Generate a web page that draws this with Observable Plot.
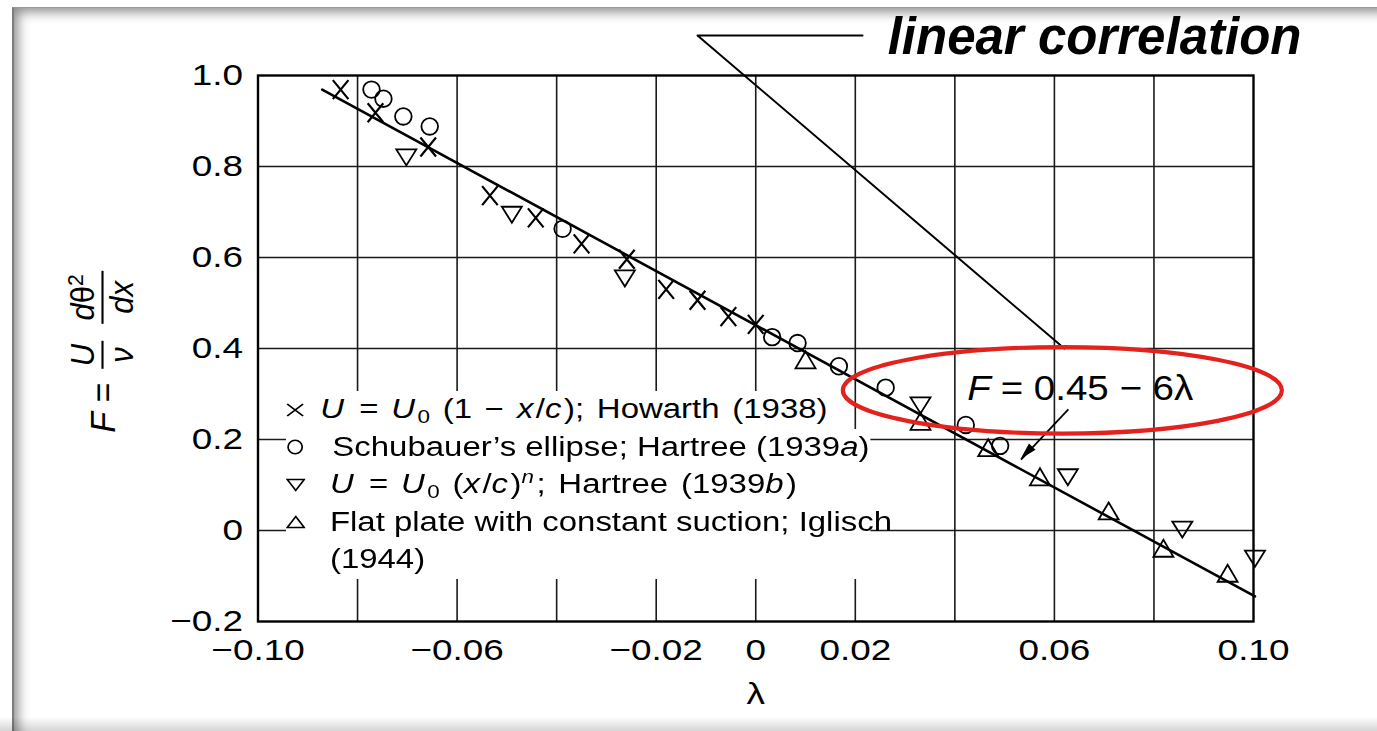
<!DOCTYPE html>
<html>
<head>
<meta charset="utf-8">
<script src="https://cdn.jsdelivr.net/npm/d3@7"></script>
<script src="https://cdn.jsdelivr.net/npm/@observablehq/plot@0.6"></script>
<style>
  html, body { margin: 0; padding: 0; background: #fff; width: 1377px; height: 731px; overflow: hidden;
    font-family: "Liberation Sans", Arial, Helvetica, sans-serif; color: #000; }
  #chart { position: absolute; left: 0; top: 0; }
  #legend { position: absolute; left: 286px; top: 391px; transform: scaleX(1.22); transform-origin: 0 0;
    font-size: 27px; white-space: nowrap; }
  #legend .row { display: flex; align-items: center; height: 37.5px; line-height: 37.5px; }
  #legend .r1 { background: #fff; width: 450px; }
  #legend .block { background: #fff; width: 479px; }
  #legend .sym { flex: none; height: 37.5px; display: flex; align-items: center; }
  #legend .wide { word-spacing: 3px; }
  #legend .wide i { padding-right: 2px; }
  #legend sub { font-size: 0.68em; vertical-align: -0.28em; line-height: 0; }
  #legend sup { font-size: 0.68em; vertical-align: 0.55em; line-height: 0; }
  #ylabel { position: absolute; left: 103px; top: 350px; transform: translate(-50%, -50%) rotate(-90deg) scaleY(1.05);
    display: flex; align-items: center; white-space: nowrap; font-size: 34px; }
  #ylabel .frac { display: inline-flex; flex-direction: column; align-items: center; font-size: 31px; line-height: 1.08; margin: 0 4px; }
  #ylabel .frac .num { border-bottom: 2px solid #000; padding: 0 3px 1px 3px; }
  #ylabel .frac .den { padding: 1px 3px 0 3px; }
  #ylabel sup { font-size: 0.68em; vertical-align: 0.5em; line-height: 0; }
  #slide { position: absolute; left: 12px; top: 7px; width: 1400px; height: 740px;
    border-left: 2px solid #7d7d7d; border-top: 1px solid #9a9a9a;
    box-shadow: inset 10px 10px 12px -6px rgba(0,0,0,0.45); pointer-events: none; }
  #slideBottom { position: absolute; left: 0; top: 717px; width: 1377px; height: 14px;
    background: linear-gradient(to bottom, rgba(0,0,0,0), rgba(0,0,0,0.17)); pointer-events: none; }
</style>
</head>
<body>
<div id="chart"></div>

<div id="legend">
  <div class="row r1">
    <span class="sym" style="width:28px"><svg width="15" height="14" viewBox="0 0 15 14"><path d="M1,1 L14,13 M14,1 L1,13" stroke="#000" stroke-width="1.7" fill="none"/></svg></span>
    <span class="txt wide"><i>U</i> = <i>U</i><sub>0</sub> (1 − <i>x</i>/<i>c</i>); Howarth (1938)</span>
  </div>
  <div class="block">
    <div class="row">
      <span class="sym" style="width:38px"><svg width="15" height="16" viewBox="0 0 15 16"><ellipse cx="7.5" cy="8" rx="5.8" ry="6.8" fill="none" stroke="#000" stroke-width="1.4"/></svg></span>
      <span class="txt">Schubauer’s ellipse; Hartree (1939<i>a</i>)</span>
    </div>
    <div class="row">
      <span class="sym" style="width:36px"><svg width="16" height="14" viewBox="0 0 16 14"><path d="M1,1.5 H15 L8,12.5 Z" fill="none" stroke="#000" stroke-width="1.4"/></svg></span>
      <span class="txt wide"><i>U</i> = <i>U</i><sub>0</sub> (<i>x</i>/<i>c</i>)<sup><i>n</i></sup>; Hartree (1939<i>b</i>)</span>
    </div>
    <div class="row">
      <span class="sym" style="width:36px"><svg width="16" height="14" viewBox="0 0 16 14"><path d="M8,1.5 L15,12.5 H1 Z" fill="none" stroke="#000" stroke-width="1.4"/></svg></span>
      <span class="txt">Flat plate with constant suction; Iglisch</span>
    </div>
    <div class="row">
      <span class="sym" style="width:36px"></span>
      <span class="txt">(1944)</span>
    </div>
  </div>
</div>

<div id="ylabel"><i>F</i>&nbsp;=&nbsp;<span class="frac"><span class="num"><i>U</i></span><span class="den"><i>ν</i></span></span>&nbsp;<span class="frac"><span class="num"><i>d</i>θ<sup>2</sup></span><span class="den"><i>dx</i></span></span></div>

<div id="slide"></div>
<div id="slideBottom"></div>

<script>
// ---------- data ----------
const xDomain = [-0.10, 0.10];
const yDomain = [-0.2, 1.0];
const xTickValues = [-0.10, -0.06, -0.02, 0, 0.02, 0.06, 0.10];
const xGridValues = [-0.08, -0.06, -0.04, -0.02, 0, 0.02, 0.04, 0.06, 0.08];
const yTickValues = [-0.2, 0, 0.2, 0.4, 0.6, 0.8, 1.0];
const yGridValues = [0, 0.2, 0.4, 0.6, 0.8];

// x : U = U0(1 - x/c); Howarth (1938)
const howarthLambda = [-0.0834, -0.0764, -0.0658, -0.0534, -0.0442, -0.0350, -0.0259, -0.0180, -0.0117, -0.0055, 0.0000];
const howarthF      = [ 0.969,   0.918,   0.843,   0.736,   0.687,   0.630,   0.596,   0.530,   0.506,   0.470,  0.453];

// o : Schubauer's ellipse; Hartree (1939a)
const schubauerLambda = [-0.0772, -0.0748, -0.0708, -0.0655, -0.0388, 0.0033, 0.0084, 0.0167, 0.0261, 0.0422, 0.0491];
const schubauerF      = [ 0.969,   0.949,   0.910,   0.888,   0.663,  0.425,  0.412,  0.361,  0.314,  0.232,  0.186];

// down-triangle : U = U0 (x/c)^n; Hartree (1939b)
const hartreeLambda = [-0.0702, -0.0490, -0.0263, 0.0331, 0.0627, 0.0857, 0.1003];
const hartreeF      = [ 0.820,   0.694,   0.554,  0.275,  0.117,  0.002, -0.062];

// up-triangle : Flat plate with constant suction; Iglisch (1944)
const iglischLambda = [0.0100, 0.0331, 0.0467, 0.0571, 0.0709, 0.0819, 0.0948];
const iglischF      = [0.375,  0.240,  0.182,  0.118,  0.043, -0.039, -0.094];

// linear correlation F = 0.45 - 6 lambda (drawn segment end points)
const fitLambda = [-0.0871, 0.1003];
const fitF      = [ 0.969, -0.145];

// annotations
const titleText = "linear correlation";
const titleLambda = 0.0265, titleF = 1.084;
const calloutLambda = [0.02145, -0.0117, 0.0620];
const calloutF      = [1.088,    1.088,   0.400];
const eqLabelF = "F", eqLabelRest = "= 0.45 − 6λ";
const eqFLambda = 0.0425, eqRestLambda = 0.0492, eqLabelFvalue = 0.312;
const eqArrowLambda = [0.0628, 0.0533];
const eqArrowF      = [0.266,  0.156];
const ellipseCenter = [0.0617, 0.307];
const ellipseHalfAxes = [0.0441, 0.0950];
const xAxisLabel = "λ";

// ---------- helpers ----------
const rows = (xs, ys) => xs.map((x, i) => ({lambda: x, F: ys[i]}));
const kOf = size => Math.sqrt(size / Math.PI) / 8;
const symX = {draw(c, size) { const k = kOf(size), w = 7.8 * k, h = 9.5 * k;
  c.moveTo(-w, -h); c.lineTo(w, h); c.moveTo(w, -h); c.lineTo(-w, h); }};
const symO = {draw(c, size) { const r = 8.3 * kOf(size); c.moveTo(r, 0); c.arc(0, 0, r, 0, 2 * Math.PI); }};
const symDown = {draw(c, size) { const k = kOf(size), w = 10 * k, h = 8 * k;
  c.moveTo(-w, -h); c.lineTo(w, -h); c.lineTo(0, h); c.closePath(); }};
const symUp = {draw(c, size) { const k = kOf(size), w = 10 * k, h = 8.5 * k;
  c.moveTo(0, -h); c.lineTo(w, h); c.lineTo(-w, h); c.closePath(); }};
const fmtX = d => d === 0 ? "0" : d3.format(".2f")(d);
const fmtY = d => d === 0 ? "0" : d3.format(".1f")(d);
const dotStyle = {x: "lambda", y: "F", r: 8, fill: "none", stroke: "black", strokeWidth: 1.8};

const plot = Plot.plot({
  width: 1377,
  height: 731,
  marginLeft: 257.5,
  marginRight: 124,
  marginTop: 75,
  marginBottom: 110,
  style: {background: "transparent", fontFamily: "'Liberation Sans', Arial, sans-serif", fontSize: "30px", color: "black", overflow: "visible"},
  x: {domain: xDomain, ticks: xTickValues, tickFormat: fmtX, tickSize: 0, tickPadding: 17, label: null},
  y: {domain: yDomain, ticks: yTickValues, tickFormat: fmtY, tickSize: 0, tickPadding: 15, label: null},
  marks: [
    Plot.ruleX(xGridValues, {stroke: "#1a1a1a", strokeWidth: 1.6}),
    Plot.ruleY(yGridValues, {stroke: "#1a1a1a", strokeWidth: 1.6}),
    Plot.frame({stroke: "black", strokeWidth: 2.4}),
    Plot.line(rows(fitLambda, fitF), {x: "lambda", y: "F", stroke: "black", strokeWidth: 2.6}),
    Plot.dot(rows(howarthLambda, howarthF), {...dotStyle, symbol: symX, strokeWidth: 2.2}),
    Plot.dot(rows(schubauerLambda, schubauerF), {...dotStyle, symbol: symO}),
    Plot.dot(rows(hartreeLambda, hartreeF), {...dotStyle, symbol: symDown}),
    Plot.dot(rows(iglischLambda, iglischF), {...dotStyle, symbol: symUp}),
    // callout line to the title
    Plot.line(rows(calloutLambda, calloutF), {x: "lambda", y: "F", stroke: "black", strokeWidth: 2}),
    Plot.text([titleText], {x: titleLambda, y: titleF, text: d => d, textAnchor: "start", lineAnchor: "middle",
      fontSize: 51, fontWeight: "bold", fontStyle: "italic", fill: "black"}),
    // equation label
    Plot.text([eqLabelF], {x: eqFLambda, y: eqLabelFvalue, text: d => d, textAnchor: "start", lineAnchor: "middle",
      fontSize: 35, fontStyle: "italic", fill: "black"}),
    Plot.text([eqLabelRest], {x: eqRestLambda, y: eqLabelFvalue, text: d => d, textAnchor: "start", lineAnchor: "middle",
      fontSize: 35, fill: "black"}),
    Plot.link([{x1: eqArrowLambda[0], y1: eqArrowF[0], x2: eqArrowLambda[1], y2: eqArrowF[1]}],
      {x1: "x1", y1: "y1", x2: "x2", y2: "y2", stroke: "black", strokeWidth: 1.8}),
    // x axis label
    Plot.text([xAxisLabel], {frameAnchor: "bottom", dy: 73, text: d => d, lineAnchor: "middle", fontSize: 30, fill: "black"})
  ]
});

document.getElementById("chart").appendChild(plot);

// ---------- post-processing through the plot's own scales ----------
const xs = plot.scale("x"), ys = plot.scale("y");
const sx = d3.scaleLinear(xs.domain, xs.range);
const sy = d3.scaleLinear(ys.domain, ys.range);
const svg = d3.select(plot);

// filled arrow head of the equation pointer
{
  const x1 = sx(eqArrowLambda[0]), y1 = sy(eqArrowF[0]);
  const x2 = sx(eqArrowLambda[1]), y2 = sy(eqArrowF[1]);
  const a = Math.atan2(y2 - y1, x2 - x1), L = 17, W = 4.5;
  const bx = x2 - L * Math.cos(a), by = y2 - L * Math.sin(a);
  const px = -Math.sin(a) * W, py = Math.cos(a) * W;
  svg.append("path").attr("d", `M${x2},${y2}L${bx + px},${by + py}L${bx - px},${by - py}Z`).attr("fill", "black");
}

// red highlight ellipse
{
  const cx = sx(ellipseCenter[0]), cy = sy(ellipseCenter[1]);
  const rx = sx(ellipseCenter[0] + ellipseHalfAxes[0]) - cx;
  const ry = cy - sy(ellipseCenter[1] + ellipseHalfAxes[1]);
  svg.append("ellipse").attr("cx", cx).attr("cy", cy).attr("rx", rx).attr("ry", ry)
    .attr("fill", "none").attr("stroke", "#e3221d").attr("stroke-width", 4.2);
}

// the scanned figure is horizontally stretched: widen its text accordingly
plot.querySelectorAll("text").forEach(t => {
  const s = t.textContent;
  if (s === titleText) return;
  const k = (s === eqLabelRest || s === eqLabelF) ? 1.1 : 1.23;
  const x = parseFloat(t.getAttribute("x")) || 0;
  const tr = t.getAttribute("transform") || "";
  t.setAttribute("transform", `${tr} translate(${x},0) scale(${k},1) translate(${-x},0)`);
});
</script>
</body>
</html>
